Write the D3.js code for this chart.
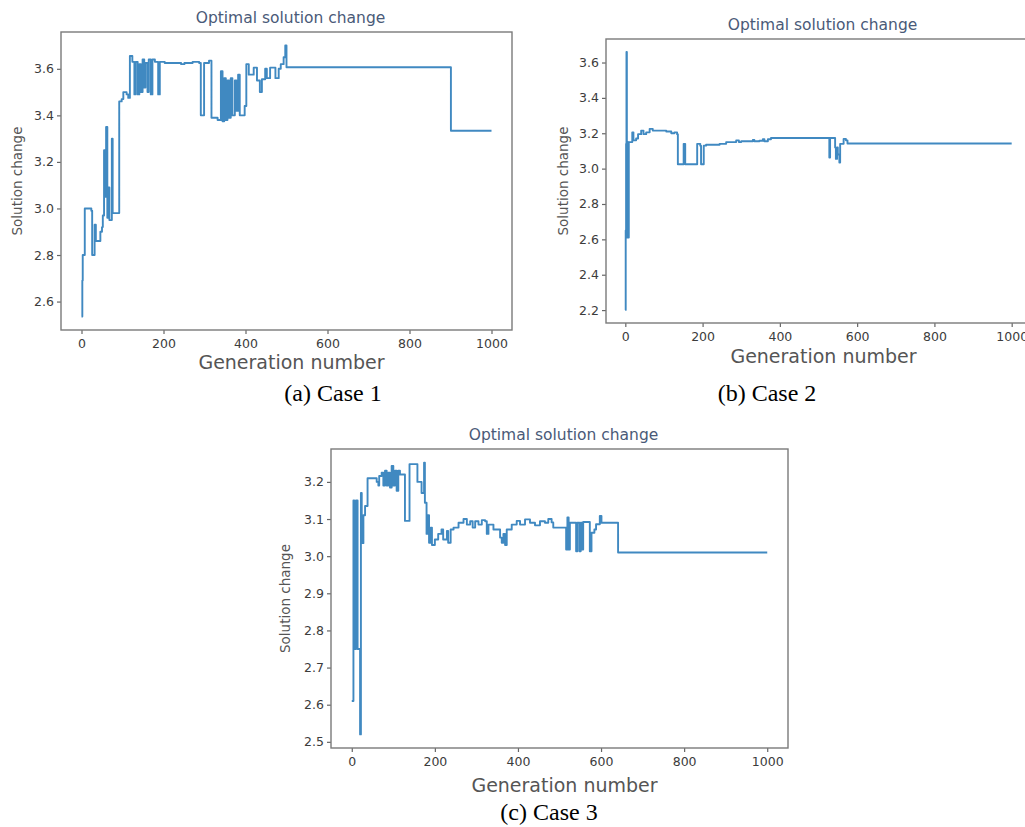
<!DOCTYPE html>
<html>
<head>
<meta charset="UTF-8">
<title>Optimal solution change</title>
<script src="https://d3js.org/d3.v7.min.js"></script>
<style>
    body { margin: 0; background: #fff; }
    svg { display: block; }
</style>
</head>
<body>
<svg id="chart" width="1025" height="827"></svg>
<script>
    // Case 1 : generation where the best value changes, and the value from there on
    const genA = [0, 2, 3, 8, 24, 26, 32, 35, 46, 50, 52, 55, 58, 60, 63, 66, 68, 74, 76, 92, 98, 102, 110, 114,
        118, 124, 129, 132, 137, 141, 145, 149, 153, 156, 161, 164, 169, 173, 179, 187, 191, 203, 243, 251, 271,
        287, 291, 299, 311, 317, 332, 340, 344, 348, 352, 356, 360, 364, 368, 374, 378, 382, 386, 398, 402, 408,
        420, 428, 435, 440, 448, 452, 460, 473, 481, 486, 493, 497, 500, 901, 1000];
    const valA = [2.536, 2.69, 2.80, 3.00, 2.99, 2.80, 2.93, 2.86, 2.90, 2.92, 2.97, 3.25, 3.05, 3.35, 2.96, 3.09,
        2.95, 3.30, 2.98, 3.46, 3.47, 3.50, 3.49, 3.475, 3.655, 3.63, 3.49, 3.63, 3.49, 3.62, 3.50, 3.64, 3.52,
        3.625, 3.50, 3.64, 3.49, 3.64, 3.63, 3.49, 3.63, 3.625, 3.62, 3.625, 3.63, 3.625, 3.40, 3.625, 3.635,
        3.39, 3.38, 3.59, 3.375, 3.56, 3.38, 3.55, 3.39, 3.56, 3.40, 3.55, 3.42, 3.575, 3.40, 3.44, 3.62, 3.575,
        3.605, 3.55, 3.50, 3.555, 3.60, 3.56, 3.605, 3.56, 3.60, 3.62, 3.65, 3.70, 3.607, 3.334, 3.334];

    // Case 2
    const genB = [0, 1, 2, 3, 4, 5, 6, 7, 8, 9, 18, 21, 28, 33, 41, 47, 54, 63, 71, 106, 119, 127, 134, 136, 151,
        155, 186, 194, 196, 203, 209, 244, 261, 287, 294, 300, 330, 334, 347, 356, 360, 369, 377, 528, 530, 534,
        543, 545, 548, 550, 554, 556, 565, 571, 575, 1000];
    const valB = [2.20, 2.65, 3.14, 3.66, 2.61, 3.13, 2.62, 3.15, 2.61, 3.15, 3.205, 3.16, 3.17, 3.195, 3.215, 3.195,
        3.205, 3.225, 3.215, 3.21, 3.20, 3.205, 3.195, 3.025, 3.14, 3.025, 3.14, 3.13, 3.025, 3.13, 3.135, 3.14,
        3.15, 3.16, 3.15, 3.155, 3.162, 3.155, 3.158, 3.166, 3.155, 3.166, 3.173, 3.063, 3.173, 3.173, 3.12,
        3.055, 3.12, 3.08, 3.035, 3.14, 3.168, 3.16, 3.142, 3.142];

    // Case 3
    const genC = [0, 4, 6, 10, 14, 20, 22, 24, 28, 32, 38, 60, 64, 66, 72, 76, 80, 84, 88, 92, 96, 100, 104, 108,
        112, 116, 128, 139, 158, 168, 174, 176, 180, 183, 186, 190, 193, 200, 208, 216, 220, 229, 232, 238, 245,
        257, 269, 277, 285, 291, 297, 305, 313, 321, 325, 329, 341, 357, 361, 365, 369, 373, 385, 397, 405, 417,
        429, 441, 453, 465, 473, 481, 485, 516, 519, 522, 525, 540, 543, 548, 551, 555, 557, 573, 577, 584, 588,
        597, 601, 641, 1000];
    const valC = [2.61, 3.15, 2.75, 3.15, 2.75, 2.52, 3.17, 3.035, 3.11, 3.135, 3.21, 3.20, 3.19, 3.216, 3.225,
        3.19, 3.23, 3.19, 3.225, 3.185, 3.243, 3.19, 3.23, 3.176, 3.23, 3.22, 3.095, 3.248, 3.20, 3.17, 3.252,
        3.144, 3.06, 3.11, 3.036, 3.077, 3.03, 3.045, 3.06, 3.072, 3.045, 3.068, 3.036, 3.072, 3.077, 3.09, 3.10,
        3.085, 3.094, 3.077, 3.094, 3.085, 3.097, 3.094, 3.06, 3.085, 3.072, 3.05, 3.036, 3.06, 3.03, 3.072,
        3.085, 3.095, 3.085, 3.099, 3.09, 3.083, 3.094, 3.09, 3.10, 3.091, 3.077, 3.018, 3.104, 3.018, 3.09,
        3.013, 3.09, 3.013, 3.09, 3.018, 3.092, 3.013, 3.063, 3.072, 3.086, 3.108, 3.09, 3.01, 3.01];

    const xTicks = [0, 200, 400, 600, 800, 1000];
    const yTicksA = [2.6, 2.8, 3.0, 3.2, 3.4, 3.6];
    const yTicksB = [2.2, 2.4, 2.6, 2.8, 3.0, 3.2, 3.4, 3.6];
    const yTicksC = [2.5, 2.6, 2.7, 2.8, 2.9, 3.0, 3.1, 3.2];
    const captions = ["(a) Case 1", "(b) Case 2", "(c) Case 3"];
    const titleText = "Optimal solution change";
    const xLabelText = "Generation number";
    const yLabelText = "Solution change";

    const svg = d3.select("#chart");

    // one matplotlib-like panel
    function drawPanel(p) {
        const w = p.right - p.left, h = p.bottom - p.top;
        const g = svg.append("g").attr("transform", `translate(${p.left},${p.top})`);

        // 5% margins like matplotlib
        const xPad = (d3.max(p.gens) - d3.min(p.gens)) * 0.05;
        const [ymin, ymax] = d3.extent(p.vals);
        const yPad = (ymax - ymin) * 0.05;

        const x = d3.scaleLinear().domain([d3.min(p.gens) - xPad, d3.max(p.gens) + xPad]).range([0, w]);
        const y = d3.scaleLinear().domain([ymin - yPad, ymax + yPad]).range([h, 0]);

        const xAxis = g.append("g")
            .attr("transform", `translate(0,${h})`)
            .call(d3.axisBottom(x).tickValues(xTicks).tickSize(4).tickPadding(5).tickFormat(d3.format("d")));
        const yAxis = g.append("g")
            .call(d3.axisLeft(y).tickValues(p.yTicks).tickSize(4).tickPadding(3).tickFormat(d3.format(".1f")));

        [xAxis, yAxis].forEach(a => {
            a.select(".domain").remove();
            a.selectAll(".tick line").attr("stroke", "#666").attr("stroke-width", 1.2);
            a.selectAll(".tick text")
                .attr("fill", "#3c3c3c")
                .style("font-family", "DejaVu Sans")
                .style("font-size", "12.5px");
        });

        // line
        const data = p.gens.map((d, i) => ({ gen: d, val: p.vals[i] }));
        g.append("path")
            .datum(data)
            .attr("fill", "none")
            .attr("stroke", "#2679b8")
            .attr("stroke-width", 1.9)
            .attr("stroke-opacity", 0.88)
            .attr("stroke-linejoin", "round")
            .attr("d", d3.line()
                .curve(d3.curveStepAfter)
                .x(d => x(d.gen))
                .y(d => y(d.val))
            );

        // frame
        g.append("rect")
            .attr("width", w)
            .attr("height", h)
            .attr("fill", "none")
            .attr("stroke", "#7a7a7a")
            .attr("stroke-width", 1.4);

        // title
        svg.append("text")
            .attr("x", p.left + w / 2 + 4)
            .attr("y", p.top - 9)
            .attr("text-anchor", "middle")
            .attr("fill", "#4a5a78")
            .style("font-family", "DejaVu Sans")
            .style("font-size", "15.5px")
            .text(titleText);

        // axis labels
        svg.append("text")
            .attr("x", p.left + w / 2 + 5)
            .attr("y", p.xLabelY)
            .attr("text-anchor", "middle")
            .attr("fill", "#555")
            .style("font-family", "DejaVu Sans")
            .style("font-size", "19px")
            .text(xLabelText);

        svg.append("text")
            .attr("transform", `translate(${p.yLabelX},${p.top + h / 2}) rotate(-90)`)
            .attr("text-anchor", "middle")
            .attr("fill", "#555")
            .style("font-family", "DejaVu Sans")
            .style("font-size", "13.5px")
            .text(yLabelText);

        // caption
        svg.append("text")
            .attr("x", p.capX)
            .attr("y", p.capY)
            .attr("text-anchor", "middle")
            .attr("fill", "#000")
            .style("font-family", "Liberation Serif")
            .style("font-size", "24px")
            .text(p.caption);
    }

    drawPanel({ gens: genA, vals: valA, yTicks: yTicksA, left: 61, top: 32, right: 512, bottom: 330,
        xLabelY: 369, yLabelX: 22, capX: 333, capY: 401, caption: captions[0] });
    drawPanel({ gens: genB, vals: valB, yTicks: yTicksB, left: 606, top: 39, right: 1031, bottom: 323,
        xLabelY: 363, yLabelX: 568, capX: 767, capY: 401, caption: captions[1] });
    drawPanel({ gens: genC, vals: valC, yTicks: yTicksC, left: 331, top: 449, right: 788, bottom: 748,
        xLabelY: 792, yLabelX: 290, capX: 549, capY: 820, caption: captions[2] });
</script>
</body>
</html>
